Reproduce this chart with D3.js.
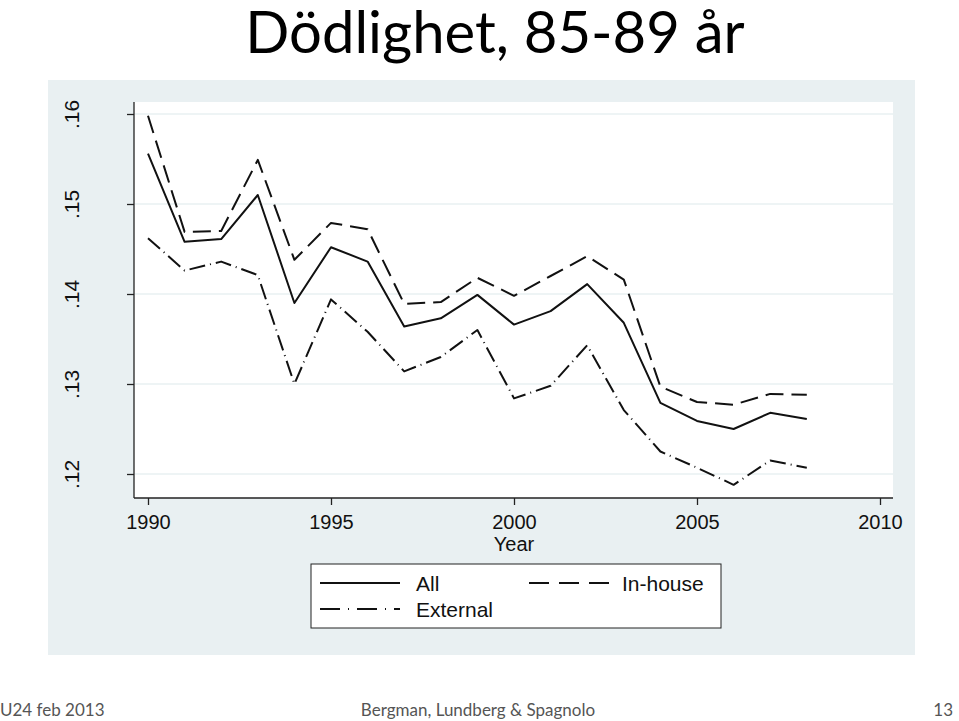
<html>
<head>
<meta charset="utf-8">
<script src="https://d3js.org/d3.v7.min.js"></script>
<style>
body { margin: 0; background: #fff; }
svg text { font-family: "Liberation Sans", Arial, sans-serif; }
svg text.cal { font-family: Lato, "Open Sans", sans-serif; }
</style>
</head>
<body>
<svg width="959" height="721"></svg>
<script>
// data
var years = d3.range(1990, 2009)
var allRate = [.1556, .1458, .1461, .1510, .1390, .1452, .1436, .1364, .1373, .1399,
               .1366, .1381, .1411, .1368, .1279, .1259, .1250, .1268, .1261]
var inhouseRate = [.1598, .1469, .1470, .1549, .1438, .1479, .1472, .1389, .1391, .1418,
                   .1398, .1420, .1442, .1416, .1297, .1280, .1277, .1289, .1288]
var externalRate = [.1462, .1426, .1436, .1421, .1300, .1394, .1358, .1314, .1330, .1360,
                    .1284, .1298, .1343, .1271, .1225, .1207, .1188, .1215, .1207]
var yTicks = [.12, .13, .14, .15, .16]
var xTicks = [1990, 1995, 2000, 2005, 2010]

var series = [
  {name: "All", values: allRate, dash: null},
  {name: "In-house", values: inhouseRate, dash: "18,8"},
  {name: "External", values: externalRate, dash: "16,5,1,5"}
]

var svg = d3.select("svg")

// title
svg.append("text").attr("class", "cal")
  .attr("x", 495).attr("y", 53)
  .attr("text-anchor", "middle")
  .style("font-size", "58px")
  .text("Dödlighet, 85-89 år")

// graph region
svg.append("rect")
  .attr("x", 48).attr("y", 80).attr("width", 867).attr("height", 575)
  .attr("fill", "#e9f0f2")
svg.append("rect")
  .attr("x", 134).attr("y", 102).attr("width", 759).attr("height", 396)
  .attr("fill", "#fff")

var x = d3.scaleLinear().domain([1990, 2010]).range([148, 880])
var y = d3.scaleLinear().domain([.12, .16]).range([474, 114])

// grid
svg.append("g").selectAll("line").data(yTicks).enter().append("line")
  .attr("x1", 135).attr("x2", 893)
  .attr("y1", function(d) { return y(d) }).attr("y2", function(d) { return y(d) })
  .attr("stroke", "#e9f0f2").attr("stroke-width", 1.5)

// y axis
var yAxis = svg.append("g").attr("transform", "translate(134,0)")
  .call(d3.axisLeft(y).tickValues(yTicks).tickSize(7).tickFormat(function(d) { return d3.format(".2f")(d).replace(/^0/, "") }))
yAxis.select(".domain").attr("stroke", "#222").attr("stroke-width", 1.3).attr("d", "M0,102V498")
yAxis.selectAll(".tick line").attr("stroke", "#222").attr("stroke-width", 1.3)
yAxis.selectAll(".tick text")
  .attr("x", 0).attr("y", 0).attr("dy", null)
  .attr("transform", "translate(-55,0) rotate(-90)")
  .attr("text-anchor", "middle")
  .style("font-size", "21px").attr("fill", "#111")

// x axis
var xAxis = svg.append("g").attr("transform", "translate(0,498)")
  .call(d3.axisBottom(x).tickValues(xTicks).tickSize(7).tickFormat(d3.format("d")))
xAxis.select(".domain").attr("stroke", "#222").attr("stroke-width", 1.3).attr("d", "M134,0H893")
xAxis.selectAll(".tick line").attr("stroke", "#222").attr("stroke-width", 1.3)
xAxis.selectAll(".tick text").attr("y", 17).attr("dy", ".71em")
  .style("font-size", "20px").attr("fill", "#111")

svg.append("text")
  .attr("x", 514).attr("y", 551)
  .attr("text-anchor", "middle")
  .style("font-size", "20px").attr("fill", "#111")
  .text("Year")

// lines
var line = d3.line()
  .x(function(d, i) { return x(years[i]) })
  .y(function(d) { return y(d) })

svg.append("g").selectAll("path").data(series).enter().append("path")
  .attr("d", function(d) { return line(d.values) })
  .attr("fill", "none")
  .attr("stroke", "#111")
  .attr("stroke-width", 2)
  .attr("stroke-linejoin", "round")
  .attr("stroke-dasharray", function(d) { return d.dash })

// legend
var legend = svg.append("g")
legend.append("rect")
  .attr("x", 311).attr("y", 564).attr("width", 410).attr("height", 64)
  .attr("fill", "#fff").attr("stroke", "#222").attr("stroke-width", 1)

var legendPos = [{x: 320, y: 583}, {x: 529, y: 583}, {x: 320, y: 609}]
var item = legend.selectAll("g.item").data(series).enter().append("g")
  .attr("class", "item")
  .attr("transform", function(d, i) { return "translate(" + legendPos[i].x + "," + legendPos[i].y + ")" })
item.append("line")
  .attr("x1", 0).attr("x2", 80).attr("y1", 0).attr("y2", 0)
  .attr("stroke", "#111").attr("stroke-width", 2)
  .attr("stroke-dasharray", function(d) { return d.dash ? (d.name == "In-house" ? "20,10" : "20,8,1,8") : null })
item.append("text")
  .attr("x", function(d) { return d.name == "In-house" ? 93 : 96 }).attr("y", 8)
  .style("font-size", "21px").attr("fill", "#111")
  .text(function(d) { return d.name })

// footer
var foot = svg.append("g").attr("fill", "#555")
foot.append("text").attr("class", "cal").attr("x", 0).attr("y", 716).style("font-size", "17px").text("U24 feb 2013")
foot.append("text").attr("class", "cal").attr("x", 478).attr("y", 716).attr("text-anchor", "middle").style("font-size", "17px").text("Bergman, Lundberg & Spagnolo")
foot.append("text").attr("class", "cal").attr("x", 953).attr("y", 716).attr("text-anchor", "end").style("font-size", "17px").text("13")
</script>
</body>
</html>
